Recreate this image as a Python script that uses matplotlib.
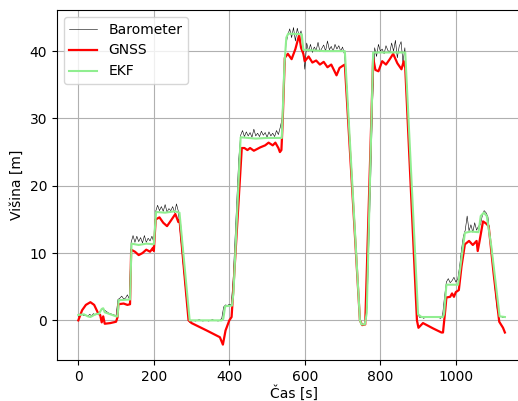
import numpy as np
import matplotlib
matplotlib.use('Agg')
from matplotlib import pyplot as plt

# Barometer height, sampled every 5 s from t = 0
baro_v = [0.6, 0.8, 0.9, 0.7, 0.8, 0.6, 0.9, 0.7, 1.0, 0.8, 1.1,
          1.2, 1.5, 1.7, 1.5, 1.3, 1.1, 1.0, 0.9, 0.8, 0.7,
          3.1, 3.3, 3.6, 3.2, 3.3, 3.8, 3.2,
          11.6,
          12.6, 11.6, 12.5, 11.7, 12.3, 11.5, 12.6, 11.6, 12.2, 11.8, 12.5, 11.6,
          16.2,
          17.1, 16.3, 16.9, 16.2, 17.2, 16.1, 16.6, 16.3, 16.9, 16.0, 17.3, 16.2,
          13.0, 10.0, 7.0, 4.0, 1.0,
          -0.3, -0.1, 0.0, -0.1, 0.0, 0.1, 0.0, -0.1, 0.0, 0.0, -0.1, 0.0, 0.1, 0.0, 0.0, -0.1, 0.0, 0.3,
          2.0, 2.3, 2.2, 2.4, 2.3,
          6.0, 12.0, 18.0, 24.0,
          27.5, 28.2, 27.3, 28.0, 27.4, 27.9, 27.2, 28.4, 27.4, 27.8, 27.3, 28.1,
          27.5, 27.9, 27.2, 28.0, 27.4, 27.8, 27.3, 28.2, 27.6, 28.7,
          30.0, 36.0, 41.0,
          42.4, 43.3, 42.0, 43.5, 41.5, 43.4, 42.2, 43.0,
          40.5, 37.3, 41.2, 40.0, 41.0, 39.8, 40.6, 40.1, 41.3, 39.9, 40.4, 40.9,
          40.0, 41.5, 40.2, 40.7, 39.9, 41.0, 40.3, 40.8, 40.0, 40.6, 39.5,
          36.0, 31.0, 26.0, 21.0, 16.0, 11.0, 5.0,
          0.5, -0.6, -0.6, -0.5,
          2.0, 12.0, 22.0, 33.0,
          40.5, 39.2, 41.0, 40.0, 40.3, 39.6, 40.8, 40.1, 39.8, 41.2, 40.0, 41.6,
          39.0, 40.7, 41.4, 38.3, 40.5,
          35.0, 29.0, 23.0, 17.0, 11.0, 5.0,
          0.8, 0.4, 0.5, 0.3, 0.5, 0.4, 0.5, 0.5, 0.4, 0.5, 0.5, 0.4, 0.3, 0.8,
          3.5, 5.7, 6.2, 5.6, 5.9, 6.4, 5.7, 6.1,
          8.0, 10.5, 12.5,
          13.4, 15.5, 13.3, 14.2, 13.1, 14.5, 13.4, 14.0,
          14.2, 15.5, 16.3, 16.0, 15.4,
          13.0, 10.0, 7.0, 4.0, 1.5,
          0.5, 0.6, 0.4, 0.5]
baro_t = np.arange(len(baro_v)) * 5

# GNSS height
gnss_t = [0, 10, 20, 32, 42, 53, 58, 62, 66, 70, 85, 100, 104, 106, 120, 130, 137,
          140, 150, 160, 170, 180, 190, 198, 200, 205, 215, 225, 235, 245, 257, 265,
          268, 280, 292, 300, 340, 375, 383, 390, 400, 406, 410, 433, 440, 448, 455,
          465, 482, 495, 504, 515, 522, 530, 534, 538, 541, 547, 555, 565, 575, 585,
          590, 596, 600, 610, 620, 630, 640, 650, 660, 670, 684, 692, 700, 706, 746,
          752, 760, 781, 787, 795, 805, 815, 825, 834, 845, 856, 862, 866, 897, 901,
          913, 940, 962, 966, 972, 975, 985, 990, 995, 1000, 1008, 1015, 1024, 1035,
          1045, 1055, 1058, 1062, 1072, 1080, 1087, 1100, 1115, 1125, 1130]
gnss_v = [0.0, 1.5, 2.3, 2.7, 2.3, 1.0, 0.8, -0.3, 0.6, -0.5, -0.4, -0.2, 0.5, 2.4, 2.5, 2.3, 2.4,
          10.5, 10.2, 9.7, 10.0, 10.5, 10.2, 10.8, 10.3, 15.0, 15.3, 14.5, 14.0, 14.8, 15.8, 14.6,
          15.0, 7.5, 0.0, -0.4, -1.5, -2.5, -3.6, -1.5, 0.0, 0.5, 4.0, 25.6, 25.6, 25.3, 25.6,
          25.2, 25.7, 26.0, 26.4, 26.0, 26.4, 25.6, 25.0, 25.3, 29.0, 39.0, 39.6, 38.8, 40.3, 42.4,
          40.5, 39.6, 38.5, 39.2, 38.3, 38.6, 38.0, 38.4, 37.6, 38.0, 36.4, 37.5, 37.8, 38.0, 0.0,
          -0.7, -0.6, 39.0, 37.2, 37.0, 38.5, 38.0, 38.8, 39.6, 38.2, 37.3, 38.5, 37.5, 0.0, -1.1,
          -0.4, -1.2, -1.8, -1.8, 1.5, 3.4, 3.5, 4.0, 3.5, 4.2, 4.5, 8.0, 11.3, 11.8,
          11.2, 11.8, 10.3, 11.5, 14.7, 14.4, 14.0, 7.0, -0.2, -1.1, -1.8]

# EKF estimate
ekf_t = [0, 15, 25, 32, 45, 55, 62, 66, 70, 85, 100, 104, 107, 137, 141, 160, 180, 200,
         206, 230, 255, 268, 295, 380, 384, 389, 407, 411, 430, 470, 500, 539, 546, 551,
         556, 592, 596, 650, 706, 746, 750, 759, 764, 781, 866, 900, 909, 966, 969, 975,
         1006, 1024, 1040, 1060, 1066, 1074, 1082, 1094, 1116, 1130]
ekf_v = [0.8, 0.9, 0.6, 0.5, 0.9, 1.0, 1.7, 1.8, 1.2, 0.9, 0.6, 0.6, 3.0, 3.1, 11.4, 11.2, 11.4, 11.3,
         16.1, 16.0, 16.2, 16.0, 0.0, 0.0, 0.2, 2.1, 2.2, 4.1, 27.2, 27.0, 27.1, 27.1, 38.0, 42.0,
         42.6, 42.5, 40.2, 40.0, 40.0, 0.0, -0.6, -0.6, 1.1, 39.8, 39.8, 0.9, 0.5, 0.5, 1.0, 5.3,
         5.3, 13.0, 13.2, 13.1, 15.5, 16.0, 15.5, 11.0, 0.6, 0.5]

fig = plt.figure(figsize=(5.18, 4.01), dpi=100)
ax = fig.add_axes([0.110, 0.102, 0.915, 0.873])

ax.plot(baro_t, baro_v, color='k', linewidth=0.4, label='Barometer')
ax.plot(gnss_t, gnss_v, color='red', linewidth=1.6, label='GNSS')
ax.plot(ekf_t, ekf_v, color='lightgreen', linewidth=1.5, label='EKF')

ax.set_xlim(-56.5, 1199)
ax.set_ylim(-5.9, 46.1)
ax.set_xlabel('Čas [s]', labelpad=1)
ax.set_ylabel('Višina [m]')
ax.grid(True, color='#b0b0b0', linewidth=0.8)
ax.legend(loc='upper left')

fig.savefig('out.png', dpi=100)
